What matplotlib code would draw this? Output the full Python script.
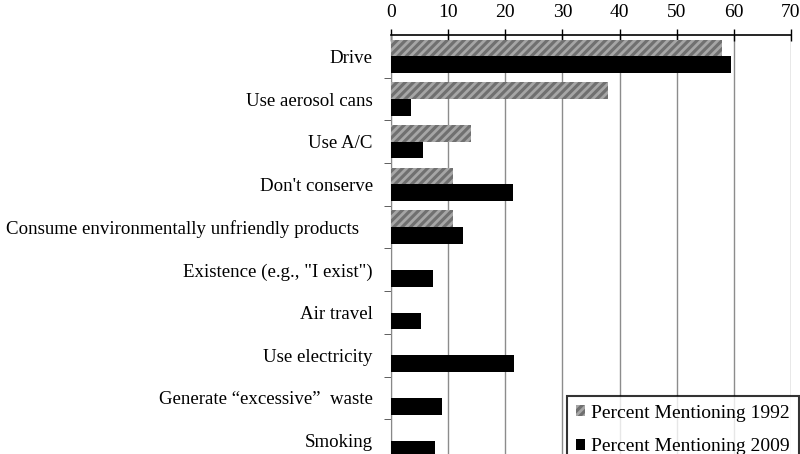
import matplotlib
matplotlib.use('Agg')
import matplotlib.pyplot as plt
import numpy as np

categories = ['Drive', 'Use aerosol cans', 'Use A/C', "Don't conserve",
              'Consume environmentally unfriendly products   ',
              'Existence (e.g., "I exist")', 'Air travel', 'Use electricity',
              'Generate \u201cexcessive\u201d  waste', 'Smoking']
pct_1992 = [58.0, 38.0, 14.0, 10.8, 10.8, 0, 0, 0, 0, 0]
pct_2009 = [59.5, 3.5, 5.6, 21.4, 12.6, 7.4, 5.3, 21.6, 9.0, 7.7]
xticks = [0, 10, 20, 30, 40, 50, 60, 70]

plt.rcParams['font.family'] = ['Liberation Serif', 'DejaVu Serif']
plt.rcParams['hatch.linewidth'] = 2.0
plt.rcParams['hatch.color'] = '#a6a6a6'

fig = plt.figure(figsize=(8, 4.54), dpi=100)
ax = fig.add_axes([391/800, -8/454, 400/800, 427/454])

y = np.arange(len(categories))
h = 0.39
ax.barh(y - h/2, pct_1992, height=h, color='#707070', hatch='////',
        edgecolor='#a6a6a6', linewidth=0, label='Percent Mentioning 1992', zorder=3)
ax.barh(y + h/2, pct_2009, height=h, color='black', linewidth=0,
        label='Percent Mentioning 2009', zorder=3)

ax.set_ylim(len(categories) - 0.5, -0.5)
ax.set_xlim(0, 70)
ax.set_xticks(xticks)
ax.xaxis.tick_top()
ax.tick_params(axis='x', direction='inout', length=8, width=1, labelsize=14, pad=6)
ax.set_yticks(y)
ax.set_yticklabels(categories, fontsize=13.6)
ax.set_yticks(np.arange(len(categories)) + 0.5, minor=True)
ax.tick_params(axis='y', which='major', length=0, pad=13)
ax.tick_params(axis='y', which='minor', length=5, color='#444444')
ax.grid(axis='x', color='#8c8c8c', linewidth=1, zorder=0)

for s in ['right', 'bottom']:
    ax.spines[s].set_visible(False)
ax.spines['top'].set_linewidth(1.2)
ax.spines['left'].set_color('#888888')

leg = fig.legend(loc='upper left', bbox_to_anchor=(567/800, 1 - 396/454),
                 fontsize=14, frameon=True, fancybox=False, edgecolor='black',
                 handlelength=0.5, handleheight=0.5, handletextpad=0.3,
                 borderpad=0.45, labelspacing=0.85, borderaxespad=0)
leg.get_frame().set_linewidth(1.5)

fig.savefig('out.png', dpi=100)
